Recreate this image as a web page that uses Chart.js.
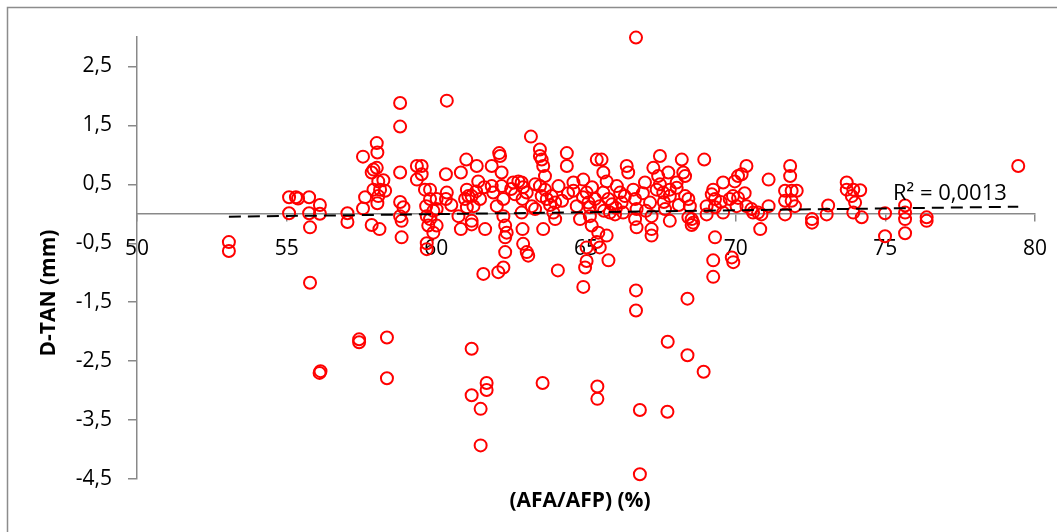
<!DOCTYPE html>
<html>
<head>
<meta charset="utf-8">
<script src="https://cdn.jsdelivr.net/npm/chart.js@4.4.1/dist/chart.umd.min.js"></script>
<style>
  html, body { margin: 0; padding: 0; background: #fff; }
  #wrap { width: 1057px; height: 532px; }
</style>
</head>
<body>
<div id="wrap"><canvas id="chart" width="1057" height="532"></canvas></div>
<script>
// AFA/AFP (%) per sample
const afaAfp = [
  53.07, 53.07, 55.08, 55.31, 55.38, 55.75, 56.11, 55.08, 55.75, 56.11,
  55.78, 57.03, 57.03, 55.78, 57.42, 57.42, 56.10, 56.13, 58.35, 58.35,
  57.55, 58.01, 58.03, 57.62, 57.55, 57.84, 57.90, 58.01, 58.06, 58.23,
  57.90, 58.12, 58.29, 58.06, 58.03, 57.84, 58.10, 58.79, 58.79, 58.79,
  58.79, 58.79, 58.84, 58.84, 58.90, 59.35, 59.51, 59.35, 59.51, 59.62,
  59.79, 59.66, 59.79, 60.01, 60.01, 59.68, 59.79, 59.73, 60.01, 59.90,
  59.68, 59.68, 60.32, 60.35, 60.32, 60.35, 60.74, 60.82, 60.82, 61.00,
  61.02, 61.07, 60.96, 61.18, 61.24, 61.02, 61.18, 61.35, 61.40, 61.63,
  61.46, 61.33, 61.18, 61.85, 61.85, 61.90, 62.02, 62.10, 62.13, 62.18,
  62.18, 62.24, 62.24, 62.30, 62.35, 62.30, 62.30, 61.57, 62.07, 62.24,
  62.57, 62.74, 62.85, 62.88, 62.85, 62.88, 62.90, 63.02, 63.07, 63.16,
  63.46, 63.46, 63.52, 63.57, 63.63, 63.46, 63.63, 63.52, 63.69, 63.85,
  63.97, 64.08, 63.91, 63.97, 63.57, 63.19, 63.02, 64.06, 62.63, 63.30,
  64.36, 64.36, 64.58, 64.58, 64.69, 64.91, 65.02, 65.08, 65.13, 65.19,
  64.80, 65.36, 65.52, 65.58, 65.69, 65.58, 65.75, 65.46, 65.80, 65.41,
  65.69, 65.46, 65.02, 64.97, 65.02, 65.75, 64.91, 65.36, 66.03, 66.14,
  66.19, 66.24, 66.36, 66.41, 66.58, 66.64, 66.69, 66.64, 66.69, 66.67,
  66.67, 66.67, 66.80, 66.80, 65.38, 65.38, 63.55, 65.30, 65.87, 65.13,
  65.97, 66.97, 67.14, 67.19, 67.19, 67.19, 67.25, 67.47, 67.41, 67.36,
  67.47, 67.58, 67.75, 67.80, 67.80, 67.80, 68.03, 68.20, 68.25, 68.31,
  68.42, 68.47, 68.53, 68.58, 68.95, 68.31, 68.03, 67.64, 68.42, 68.53,
  67.73, 68.39, 68.39, 67.72, 68.93, 69.03, 69.03, 69.25, 69.31, 69.20,
  69.58, 69.31, 69.58, 69.80, 69.91, 69.97, 70.08, 70.20, 70.36, 70.08,
  70.03, 70.36, 70.53, 70.58, 70.75, 70.86, 70.82, 71.10, 71.10, 69.31,
  69.25, 69.87, 69.92, 69.25, 71.82, 71.82, 71.65, 71.87, 72.04, 71.65,
  71.87, 71.98, 71.65, 72.55, 72.55, 73.09, 73.04, 73.71, 73.71, 73.93,
  74.16, 73.88, 73.99, 73.93, 74.21, 74.99, 74.99, 75.66, 75.66, 75.66,
  75.66, 76.38, 76.38, 79.44, 61.18, 61.68, 61.68, 61.18, 61.48, 61.48,
  62.50, 62.90, 63.30, 63.80, 64.20, 64.40, 64.90, 65.20, 65.60, 66.00,
  66.30, 66.90, 67.00, 67.60, 68.10, 60.50, 61.60, 59.90, 69.50, 70.30
];

// D-TAN (mm), same order as afaAfp
const dTan = [
  -0.48, -0.63, 0.28, 0.28, 0.26, 0.28, 0.15, 0.01, 0.01, 0.00,
  -0.23, 0.01, -0.14, -1.17, -2.13, -2.18, -2.70, -2.67, -2.10, -2.79,
  0.97, 1.20, 1.04, 0.28, 0.09, 0.70, 0.75, 0.78, 0.55, 0.57,
  0.41, 0.41, 0.39, 0.30, 0.18, -0.19, -0.26, 1.88, 1.48, 0.70,
  0.20, -0.04, -0.12, -0.40, 0.11, 0.81, 0.81, 0.58, 0.67, 0.41,
  0.41, 0.13, 0.25, 0.25, 0.08, -0.04, -0.09, -0.20, -0.20, -0.32,
  -0.50, -0.60, 0.67, 0.36, 0.25, 1.92, -0.04, -0.26, 0.70, 0.92,
  0.41, 0.30, 0.25, 0.30, 0.13, 0.11, -0.18, 0.81, 0.55, -0.26,
  0.25, 0.38, -0.12, 0.81, 0.47, 0.36, 0.13, 1.03, 0.98, 0.70,
  0.47, 0.25, -0.04, -0.20, -0.32, -0.40, -0.65, -1.02, -0.99, -0.91,
  0.53, 0.55, 0.53, 0.25, 0.02, -0.26, -0.51, -0.65, -0.71, 1.31,
  1.09, 0.98, 0.92, 0.81, 0.64, 0.47, 0.41, 0.30, 0.25, 0.30,
  0.19, 0.47, 0.02, -0.09, -0.26, 0.13, 0.36, -0.96, 0.33, 0.08,
  1.03, 0.81, 0.53, 0.39, 0.13, 0.58, 0.36, 0.19, -0.04, -0.20,
  -0.09, 0.92, 0.92, 0.70, 0.55, 0.36, 0.25, 0.13, 0.02, -0.32,
  -0.37, -0.57, -0.57, -0.91, -0.80, -0.79, -1.24, -0.48, 0.47, 0.36,
  0.19, 0.02, 0.81, 0.70, 0.41, 0.25, 0.08, -0.09, -0.23, 2.99,
  -1.30, -1.64, -3.33, -4.42, -2.93, -3.14, -2.87, 0.25, 0.16, 0.11,
  -0.01, 0.53, 0.19, -0.04, -0.26, -0.37, 0.78, 0.98, 0.64, 0.41,
  0.50, 0.36, 0.70, 0.41, 0.30, -0.12, 0.53, 0.92, 0.70, 0.30,
  0.25, 0.13, -0.09, -0.15, 0.92, 0.64, 0.44, 0.08, -0.06, -0.19,
  -2.17, -1.44, -2.40, -3.36, -2.68, 0.13, -0.01, 0.41, 0.25, 0.33,
  0.53, 0.11, 0.02, 0.25, 0.30, 0.55, 0.64, 0.67, 0.81, 0.27,
  0.13, 0.13, 0.08, 0.02, 0.02, -0.01, -0.26, 0.58, 0.13, -0.40,
  -0.79, -0.74, -0.82, -1.07, 0.81, 0.64, 0.39, 0.39, 0.39, 0.22,
  0.22, 0.13, -0.01, -0.09, -0.15, 0.14, -0.01, 0.53, 0.41, 0.41,
  0.40, 0.30, 0.19, 0.02, -0.06, 0.01, -0.38, 0.14, 0.02, -0.09,
  -0.33, -0.06, -0.12, 0.81, -2.29, -2.87, -2.99, -3.08, -3.31, -3.93,
  0.42, 0.45, 0.50, 0.15, 0.22, 0.35, 0.28, 0.45, 0.05, 0.10,
  0.30, 0.35, 0.05, 0.20, 0.15, 0.15, 0.45, 0.05, 0.20, 0.35
];

// linear trendline ends
const trendX = [53.07, 79.44];
const trendY = [-0.05, 0.12];

const xTicks = [50, 55, 60, 65, 70, 75, 80];
const yTicks = [-4.5, -3.5, -2.5, -1.5, -0.5, 0.5, 1.5, 2.5];

const xTitle = '(AFA/AFP) (%)';
const yTitle = 'D-TAN (mm)';
const r2Label = 'R² = 0,0013';

Chart.defaults.font.family = "'Open Sans', sans-serif";
Chart.defaults.color = '#000';

const axisGrey = '#898989';
const comma = v => String(v).replace('.', ',');

// frame + axis titles + R² text
const decor = {
  id: 'decor',
  beforeDraw(chart) {
    const c = chart.ctx;
    c.save();
    c.fillStyle = '#fff';
    c.fillRect(0, 0, chart.width, chart.height);
    c.strokeStyle = '#8c8c8c';
    c.lineWidth = 1.5;
    c.beginPath();
    c.moveTo(7.5, chart.height);
    c.lineTo(7.5, 7.5);
    c.lineTo(chart.width, 7.5);
    c.stroke();
    c.restore();
  },
  afterDraw(chart) {
    const c = chart.ctx;
    c.save();
    c.fillStyle = '#000';
    c.textAlign = 'center';
    c.textBaseline = 'middle';
    c.font = "bold 21px 'Open Sans'";
    c.fillText(xTitle, 580, 501);
    c.translate(49, 293);
    c.rotate(-Math.PI / 2);
    c.fillText(yTitle, 0, 0);
    c.restore();

    c.save();
    c.fillStyle = '#000';
    c.font = "22px 'Open Sans'";
    c.textAlign = 'left';
    c.textBaseline = 'alphabetic';
    c.fillText(r2Label, 893, 200);
    c.restore();
  }
};

new Chart(document.getElementById('chart'), {
  type: 'scatter',
  data: {
    datasets: [
      {
        type: 'line',
        data: trendX.map((x, i) => ({ x: x, y: trendY[i] })),
        borderColor: '#000',
        borderWidth: 2,
        borderDash: [12, 7],
        pointRadius: 0,
        fill: false
      },
      {
        data: afaAfp.map((x, i) => ({ x: x, y: dTan[i] })),
        pointStyle: 'circle',
        pointRadius: 6,
        pointBorderWidth: 2,
        borderColor: '#ff0000',
        backgroundColor: 'rgba(0,0,0,0)',
        clip: false
      }
    ]
  },
  options: {
    responsive: false,
    animation: false,
    devicePixelRatio: 1,
    layout: { padding: { top: 37, right: 22, bottom: 53, left: 0 } },
    plugins: { legend: { display: false }, tooltip: { enabled: false } },
    scales: {
      x: {
        type: 'linear',
        min: 50,
        max: 80,
        position: { y: 0 },
        afterBuildTicks: s => { s.ticks = xTicks.map(v => ({ value: v })); },
        // label overflow should not shrink the plot
        afterFit: s => { s.paddingLeft = 0; s.paddingRight = 0; },
        grid: { drawOnChartArea: false, tickLength: 7, color: axisGrey, lineWidth: 1.5 },
        border: { color: axisGrey, width: 1.5 },
        ticks: { font: { size: 21 }, padding: 16, maxRotation: 0, callback: comma }
      },
      y: {
        type: 'linear',
        min: -4.5,
        max: 3,
        afterBuildTicks: s => { s.ticks = yTicks.map(v => ({ value: v })); },
        afterFit: s => { s.width = 137; },
        grid: { drawOnChartArea: false, tickLength: 9, color: axisGrey, lineWidth: 1.5 },
        border: { color: axisGrey, width: 1.5 },
        ticks: { font: { size: 21 }, padding: 16, callback: comma }
      }
    }
  },
  plugins: [decor]
});
</script>
</body>
</html>
